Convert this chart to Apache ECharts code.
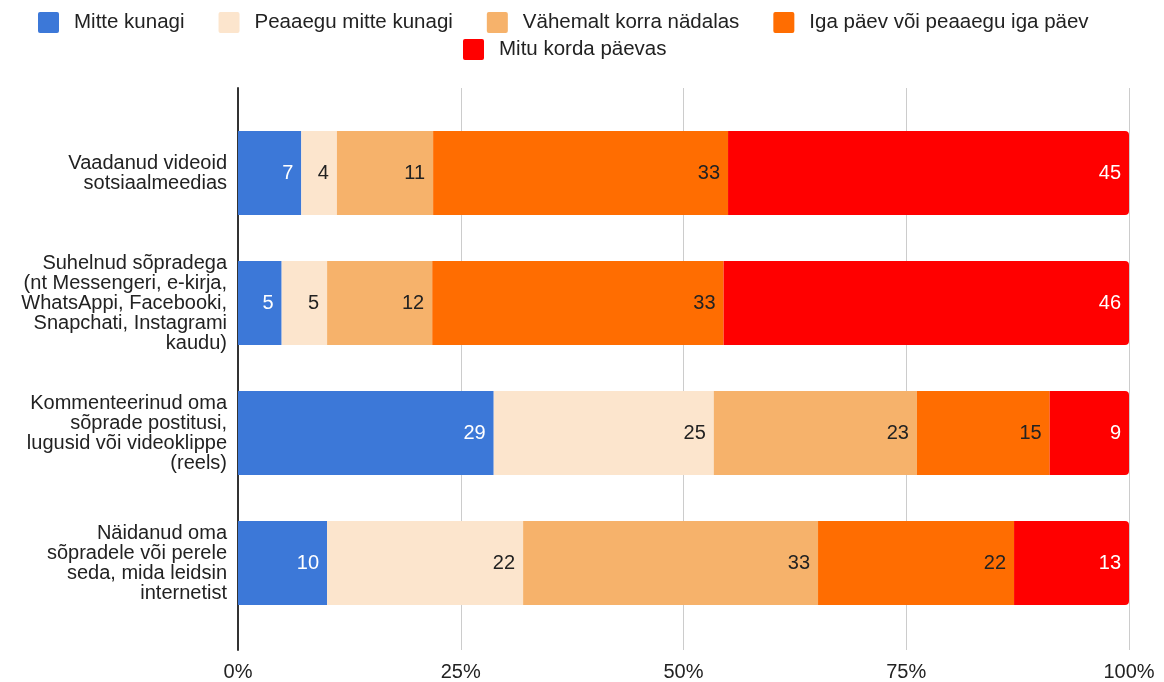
<!DOCTYPE html>
<html>
<head>
<meta charset="utf-8">
<script src="https://cdn.jsdelivr.net/npm/echarts@6/dist/echarts.min.js"></script>
<style>html,body{margin:0;padding:0;background:#fff}#c{width:1164px;height:682px}</style>
</head>
<body>
<div id="c"></div>
<script>
const categories = [
  "Vaadanud videoid\nsotsiaalmeedias",
  "Suhelnud sõpradega\n(nt Messengeri, e-kirja,\nWhatsAppi, Facebooki,\nSnapchati, Instagrami\nkaudu)",
  "Kommenteerinud oma\nsõprade postitusi,\nlugusid või videoklippe\n(reels)",
  "Näidanud oma\nsõpradele või perele\nseda, mida leidsin\ninternetist"
];
const seriesNames = ["Mitte kunagi", "Peaaegu mitte kunagi", "Vähemalt korra nädalas", "Iga päev või peaaegu iga päev", "Mitu korda päevas"];
const mitteKunagi = [7.1, 4.9, 28.7, 10.0];
const peaaeguMitte = [4.0, 5.1, 24.7, 22.0];
const vahemaltNadalas = [10.8, 11.8, 22.8, 33.1];
const igaPaev = [33.1, 32.7, 14.9, 22.0];
const mituKorda = [45.0, 45.5, 8.9, 12.9];
const xTicks = [0, 25, 50, 75, 100];

const colors = ["#3c78d8", "#fce5cd", "#f6b26b", "#ff6d01", "#ff0000"];
const labelColors = ["#ffffff", "#222222", "#222222", "#222222", "#ffffff"];
const values = [mitteKunagi, peaaeguMitte, vahemaltNadalas, igaPaev, mituKorda];
const FONT = "'Liberation Sans', Arial, sans-serif";
const SQUARE = 'path://M2,0H19A2,2 0 0 1 21,2V19A2,2 0 0 1 19,21H2A2,2 0 0 1 0,19V2A2,2 0 0 1 2,0Z';

const series = values.map((v, i) => ({
  name: seriesNames[i],
  type: 'bar',
  stack: 'total',
  xAxisIndex: 1,
  yAxisIndex: 1,
  barWidth: 84,
  data: v,
  itemStyle: { color: colors[i], borderRadius: i === 4 ? [0, 4, 4, 0] : 0 },
  label: {
    show: true,
    position: 'insideRight',
    distance: 8,
    color: labelColors[i],
    fontSize: 20,
    fontFamily: FONT,
    formatter: p => Math.round(p.value)
  },
  emphasis: { disabled: true }
}));

const legendText = { fontSize: 20.5, fontFamily: FONT, color: '#222', padding: [0, 0, 0, 10] };

const chart = echarts.init(document.getElementById('c'), null, { renderer: 'canvas' });
chart.setOption({
  animation: false,
  color: colors,
  legend: [
    {
      data: seriesNames.slice(0, 4),
      left: 38, top: 12, padding: 0,
      itemWidth: 21, itemHeight: 21, itemGap: 34,
      icon: SQUARE,
      textStyle: legendText,
      selectedMode: false
    },
    {
      data: seriesNames.slice(4),
      left: 463, top: 39, padding: 0,
      itemWidth: 21, itemHeight: 21,
      icon: SQUARE,
      textStyle: legendText,
      selectedMode: false
    }
  ],
  grid: [
    { left: 238, right: 35, top: 88, bottom: 31 },
    { left: 238, right: 35, top: 108, bottom: 54 }
  ],
  xAxis: [
    {
      gridIndex: 0, type: 'value', min: xTicks[0], max: xTicks[xTicks.length - 1], interval: 25,
      axisLine: { show: false }, axisTick: { show: false },
      splitLine: { show: true, lineStyle: { color: '#cccccc', width: 1 } },
      axisLabel: { formatter: '{value}%', fontSize: 20, fontFamily: FONT, color: '#222', margin: 12 }
    },
    {
      gridIndex: 1, type: 'value', min: 0, max: 100, show: false
    }
  ],
  yAxis: [
    {
      gridIndex: 0, type: 'value', min: 0, max: 1,
      axisLine: { show: true, lineStyle: { color: '#333333', width: 2 } },
      axisTick: { show: false }, axisLabel: { show: false }, splitLine: { show: false }
    },
    {
      gridIndex: 1, type: 'category', data: categories, inverse: true,
      axisLine: { show: false }, axisTick: { show: false },
      axisLabel: { fontSize: 20, fontFamily: FONT, color: '#222', lineHeight: 20, margin: 11, align: 'right' }
    }
  ],
  series: series
});
</script>
</body>
</html>
